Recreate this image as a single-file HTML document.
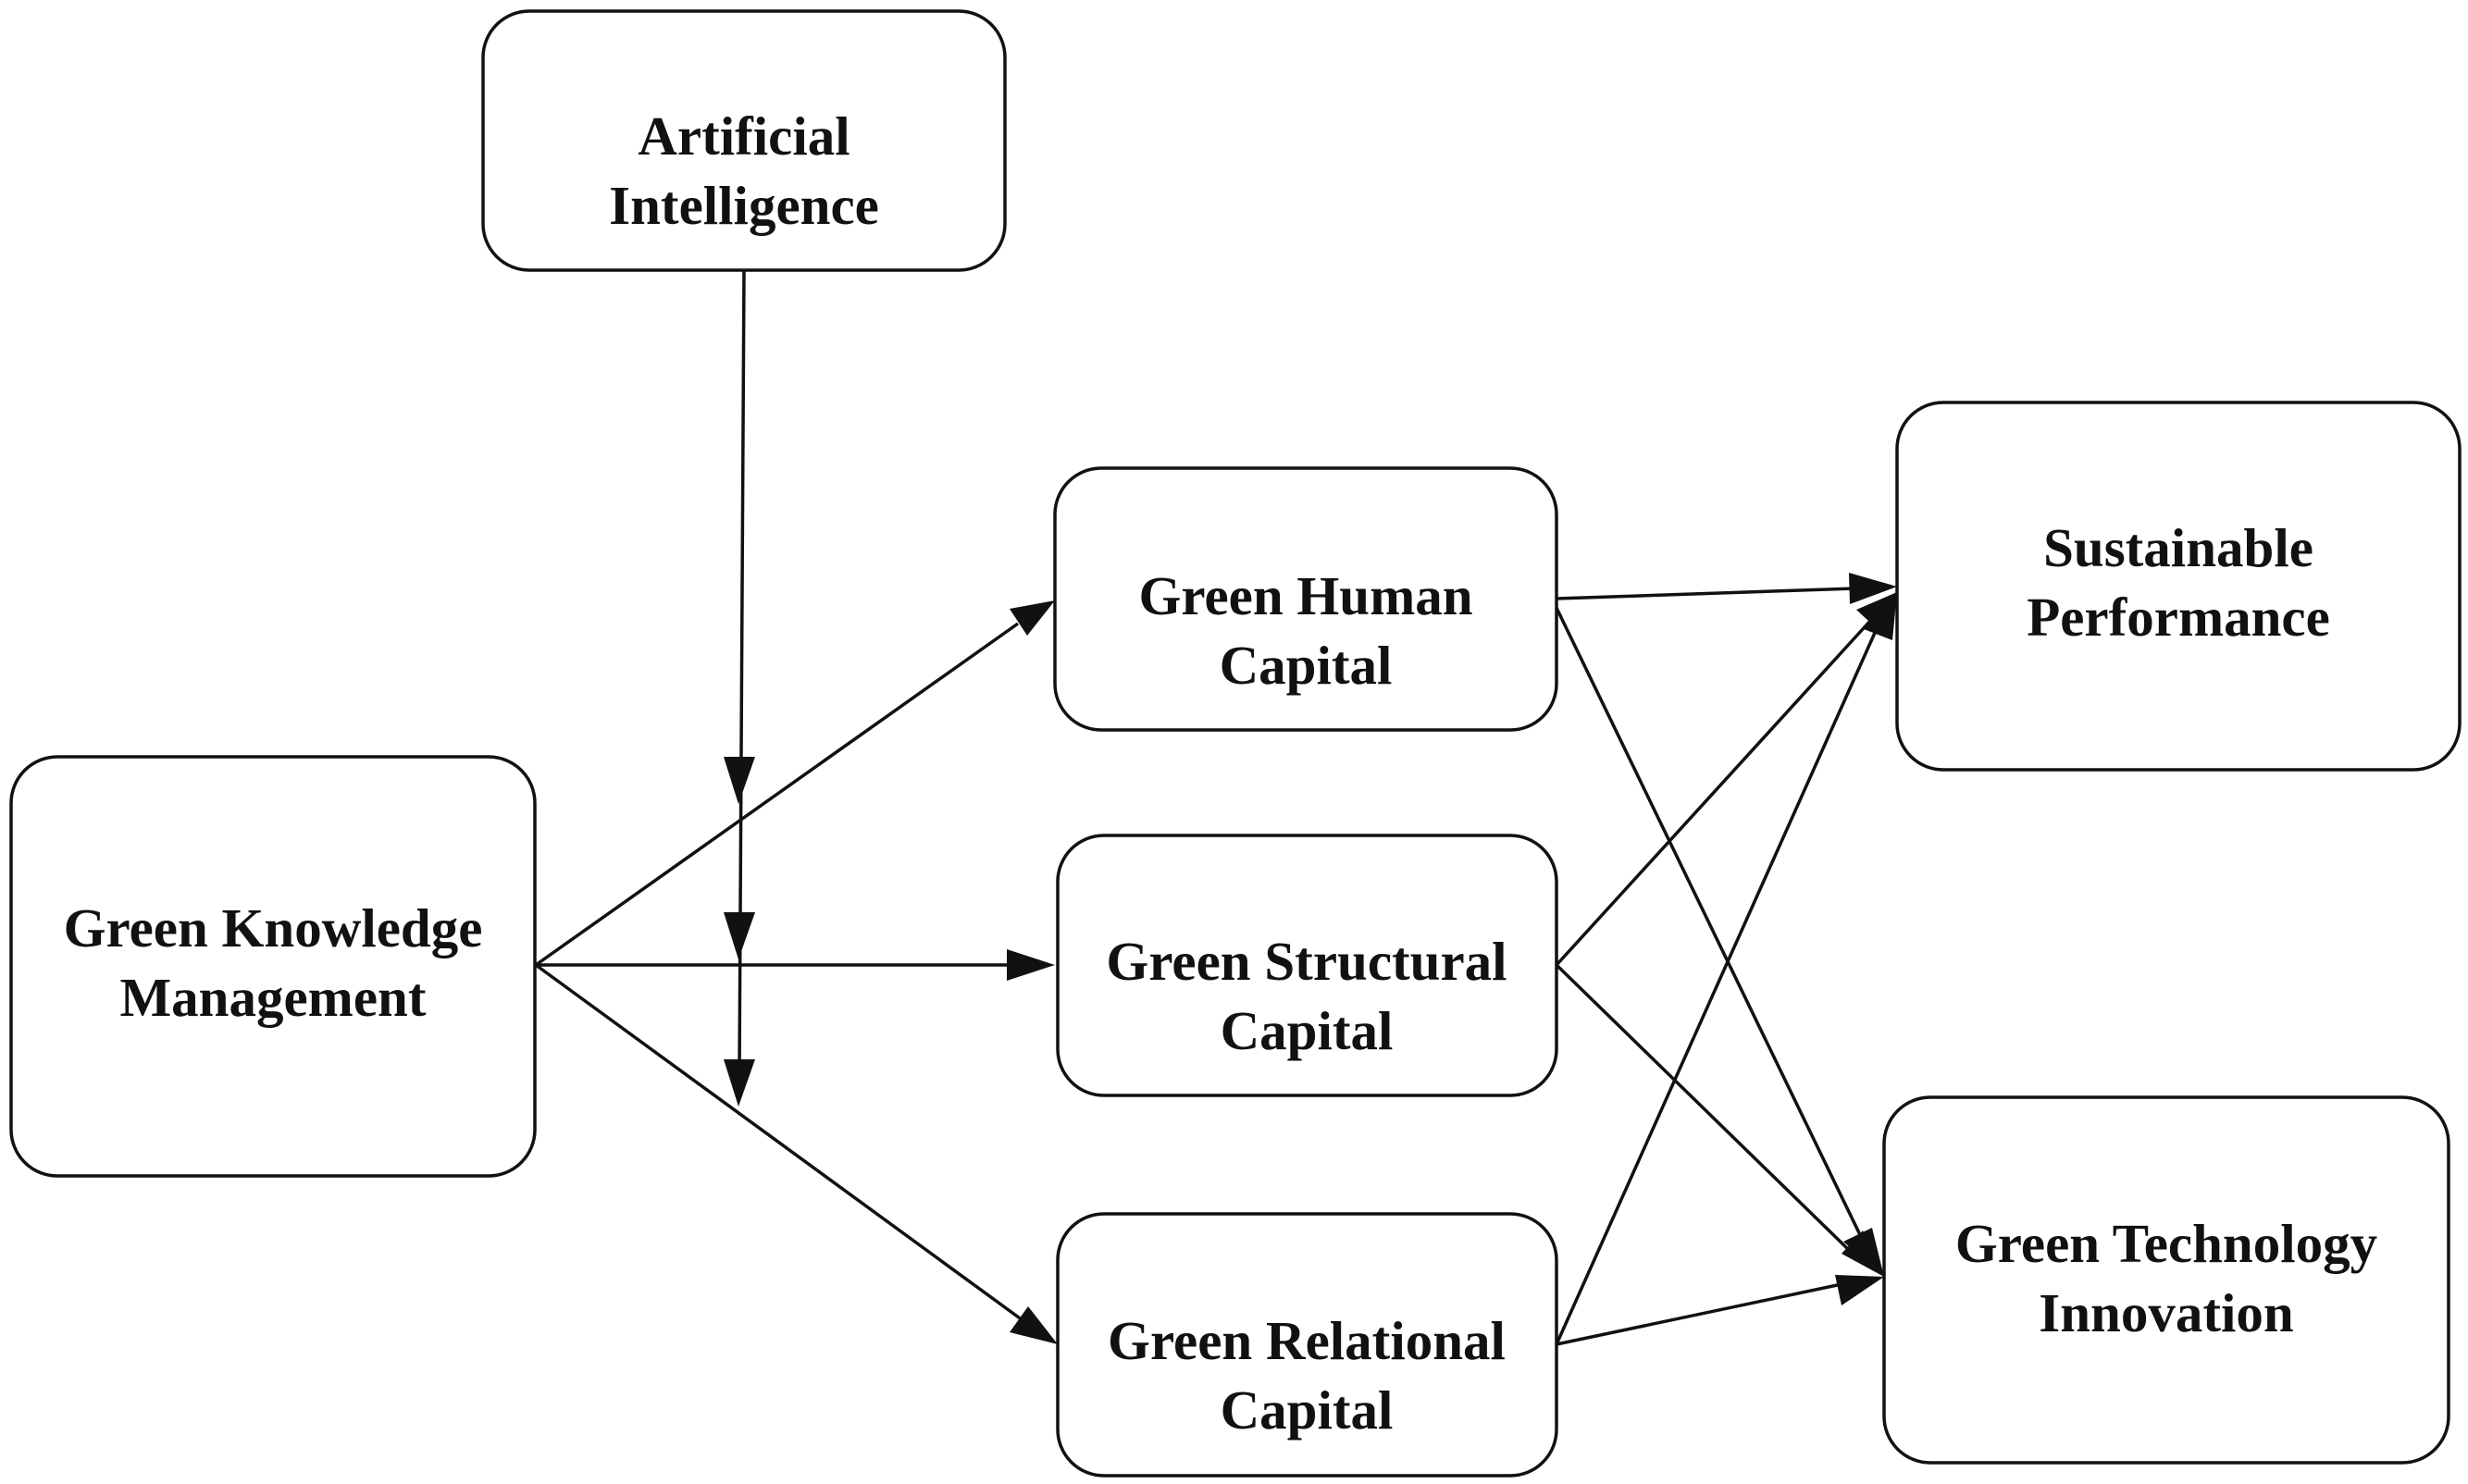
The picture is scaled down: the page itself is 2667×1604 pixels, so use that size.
<!DOCTYPE html>
<html><head><meta charset="utf-8"><style>
html,body{margin:0;padding:0;background:#fff;}
svg{display:block;}
text{font-family:"Liberation Serif",serif;font-weight:bold;font-size:59px;fill:#111;text-anchor:middle;}
</style></head><body>
<svg width="2667" height="1604" viewBox="0 0 2667 1604" xmlns="http://www.w3.org/2000/svg">
<defs>
<marker id="a" markerWidth="12" markerHeight="10" refX="12" refY="5" orient="auto" markerUnits="userSpaceOnUse" viewBox="0 0 12 10">
</marker>
</defs>
<g fill="#fff" stroke="#111" stroke-width="3.5">
<rect x="522" y="12" width="564" height="280" rx="50"/>
<rect x="12" y="818" width="566" height="453" rx="50"/>
<rect x="1140" y="506" width="542" height="283" rx="50"/>
<rect x="1143" y="903" width="539" height="281" rx="50"/>
<rect x="1143" y="1312" width="539" height="283" rx="50"/>
<rect x="2050" y="435" width="608" height="397" rx="50"/>
<rect x="2036" y="1186" width="610" height="395" rx="50"/>
</g>
<g stroke="#111" stroke-width="3.5" fill="none">
<line x1="804" y1="292" x2="799" y2="1160"/>
<line x1="579" y1="1043" x2="1100" y2="674"/>
<line x1="579" y1="1043" x2="1100" y2="1043"/>
<line x1="579" y1="1043" x2="1105" y2="1427"/>
<line x1="1682" y1="647" x2="2005" y2="636"/>
<line x1="1682" y1="657" x2="2015" y2="1345"/>
<line x1="1682" y1="1043" x2="2022" y2="670"/>
<line x1="1682" y1="1043" x2="2002" y2="1355"/>
<line x1="1682" y1="1453" x2="2030" y2="675"/>
<line x1="1682" y1="1453" x2="1995" y2="1387"/>
</g>
<g fill="#111">
<polygon points="798,869 782,818 816,818"/>
<polygon points="798,1037 782,986 816,986"/>
<polygon points="798,1196 782,1145 816,1145"/>
<polygon points="1140,649 1091,658 1110,687"/>
<polygon points="1140,1043 1088,1026 1088,1060"/>
<polygon points="1143,1453 1111,1412 1091,1440"/>
<polygon points="2050,634 1998,619 1999,653"/>
<polygon points="2036,1380 2023,1327 1992,1342"/>
<polygon points="2050,640 2006,659 2031,682"/>
<polygon points="2036,1380 2013,1330 1990,1355"/>
<polygon points="2050,640 2014,680 2045,692"/>
<polygon points="2036,1380 1983,1378 1990,1411"/>
</g>
<text x="804" y="167">Artificial</text>
<text x="804" y="242">Intelligence</text>
<text x="295" y="1023">Green Knowledge</text>
<text x="295" y="1098">Management</text>
<text x="1411" y="664">Green Human</text>
<text x="1411" y="739">Capital</text>
<text x="1412" y="1059">Green Structural</text>
<text x="1412" y="1134">Capital</text>
<text x="1412" y="1469">Green Relational</text>
<text x="1412" y="1544">Capital</text>
<text x="2354" y="612">Sustainable</text>
<text x="2354" y="687">Performance</text>
<text x="2341" y="1364">Green Technology</text>
<text x="2341" y="1439">Innovation</text>
</svg>
</body></html>
